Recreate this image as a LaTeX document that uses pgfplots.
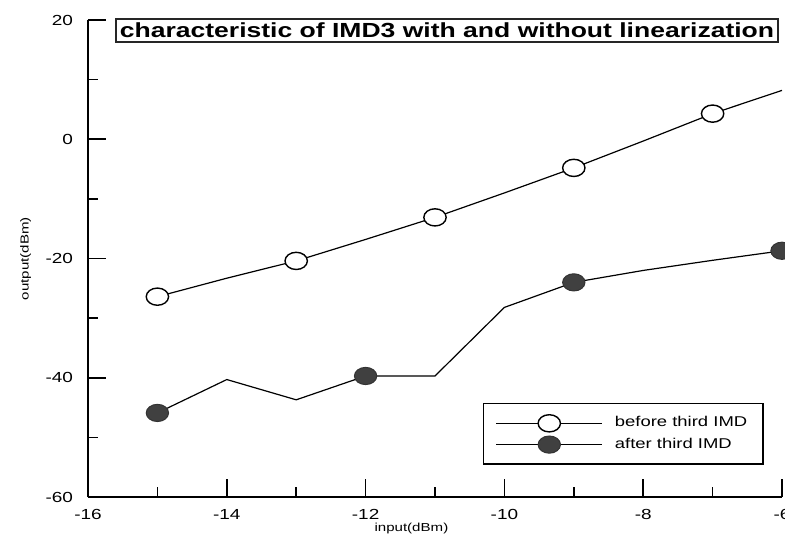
\documentclass[border=0pt]{standalone}
\usepackage{fontspec}
\setmainfont[FakeStretch=1.3]{Liberation Sans}
\usepackage{pgfplots}
\pgfplotsset{compat=1.18}
\begin{document}
\begin{tikzpicture}
\begin{axis}[
  at={(0,0)}, anchor=south west,
  scale only axis, width=347pt, height=238.5pt,
  xmin=-16, xmax=-6, ymin=-60, ymax=20,
  clip mode=individual,
  axis lines=left, axis line style={-, line width=1pt},
  xtick={-16,-14,...,-6}, ytick={-60,-40,...,20},
  minor x tick num=1, minor y tick num=1,
  tick align=inside, major tick length=9pt, minor tick length=5pt,
  tick style={line width=0.8pt, black},
  ticklabel style={font=\fontsize{7.3}{8}\selectfont},
  /pgf/number format/assume math mode=true,
  yticklabel style={xshift=-4pt},
  xticklabel style={yshift=-2.5pt},
  xlabel={input(dBm)}, ylabel={output(dBm)},
  label style={font=\fontsize{5.8}{7}\selectfont},
  xlabel style={at={(axis description cs:0.466,0)}, anchor=center, yshift=-15.5pt},
  ylabel style={at={(axis description cs:-0.09,0.5)}, anchor=center},
  legend style={at={(axis description cs:0.569,0.067)}, anchor=south west, draw=black, line width=0.8pt,
    font=\fontsize{7.1}{9}\selectfont, inner xsep=6pt, inner ysep=4.5pt, row sep=0pt,
    /tikz/every odd column/.append style={column sep=4pt}},
  legend cell align=left,
  legend image code/.code={%
    \draw[#1] (0pt,0pt) -- (53pt,0pt);
    \draw[#1] plot coordinates {(26.5pt,0pt)};},
]
\addplot[black, line width=0.6pt, mark=*, mark size=4.3pt,
  mark options={fill=white, draw=black, line width=0.7pt, xscale=1.3},
  mark indices={1,3,5,7,9}]
  coordinates {(-15,-26.4) (-14,-23.3) (-13,-20.4) (-12,-16.8) (-11,-13.1) (-10,-9.0) (-9,-4.8) (-8,-0.3) (-7,4.3) (-6,8.2)};
\addlegendentry{before third IMD}
\addplot[black, line width=0.6pt, mark=*, mark size=4.3pt,
  mark options={fill=black!75, draw=black!80, line width=0.5pt, xscale=1.3},
  mark indices={1,4,7,10}]
  coordinates {(-15,-45.9) (-14,-40.3) (-13,-43.7) (-12,-39.7) (-11,-39.7) (-10,-28.2) (-9,-24.0) (-8,-22.0) (-7,-20.3) (-6,-18.7)};
\addlegendentry{after third IMD}
\node[draw=black!85, line width=0.8pt, anchor=north west, inner xsep=2pt, inner ysep=2pt,
  font=\bfseries\fontsize{10.2}{12}\selectfont] at (axis description cs:0.039,1.004)
  {characteristic of IMD3 with and without linearization};
\end{axis}
\pgfresetboundingbox
\useasboundingbox (-44pt,-19.5pt) rectangle (348.5pt,248.5pt);
\end{tikzpicture}
\end{document}
